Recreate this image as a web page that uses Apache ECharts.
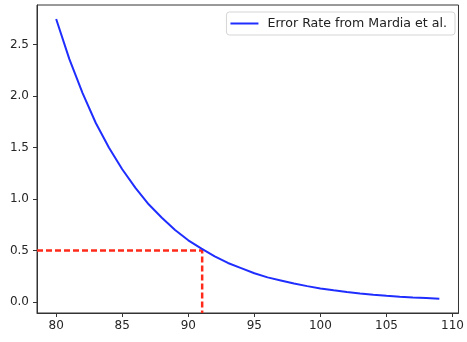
<!DOCTYPE html>
<html>
<head>
<meta charset="utf-8">
<script src="https://cdn.jsdelivr.net/npm/echarts@6/dist/echarts.min.js"></script>
<style>
  html, body { margin: 0; padding: 0; background: #fff; }
  #chart { width: 467px; height: 342px; }
</style>
</head>
<body>
<div id="chart"></div>
<script>
// valores
const xVals = [80, 81, 82, 83, 84, 85, 86, 87, 88, 89, 90, 91, 92, 93, 94,
  95, 96, 97, 98, 99, 100, 101, 102, 103, 104, 105, 106, 107, 108, 109];
const errorRate = [2.75, 2.36, 2.03, 1.74, 1.50, 1.29, 1.11, 0.95, 0.82, 0.70,
  0.60, 0.52, 0.445, 0.38, 0.33, 0.28, 0.24, 0.21, 0.18, 0.155,
  0.133, 0.114, 0.098, 0.084, 0.072, 0.062, 0.053, 0.045, 0.039, 0.033];
const xTicks = [80, 85, 90, 95, 100, 105, 110];
const yTicks = [0, 0.5, 1.0, 1.5, 2.0, 2.5];
const threshold = 0.5;
const crossX = 91.05;
const xRange = [78.55, 110.45];
const yRange = [-0.106, 2.886];

const chart = echarts.init(document.getElementById("chart"));
const font = "DejaVu Sans";

const option = {
  animation: false,
  grid: {
    left: 37, right: 6, top: 5, bottom: 29,
    show: true, borderColor: "#333", borderWidth: 1, backgroundColor: "transparent"
  },
  legend: {
    right: 12, top: 12,
    padding: [5, 8, 5, 4],
    itemWidth: 28, itemHeight: 2, itemGap: 8,
    icon: "rect",
    borderColor: "#d5d5d5", borderWidth: 1, borderRadius: 3,
    backgroundColor: "#fff",
    textStyle: { fontFamily: font, fontSize: 12.6, color: "#222", padding: [0, 0, 0, 4] },
    data: ["Error Rate from Mardia et al."]
  },
  xAxis: {
    type: "value",
    min: xRange[0], max: xRange[1],
    axisLine: { show: true, onZero: false, lineStyle: { color: "#333", width: 1 } },
    axisTick: { show: true, length: 4, customValues: xTicks, lineStyle: { color: "#333" } },
    axisLabel: { customValues: xTicks, fontFamily: font, fontSize: 12, color: "#262626", margin: 7 },
    splitLine: { show: false }
  },
  yAxis: {
    type: "value",
    min: yRange[0], max: yRange[1],
    axisLine: { show: true, onZero: false, lineStyle: { color: "#333", width: 1 } },
    axisTick: { show: true, length: 4, customValues: yTicks, lineStyle: { color: "#333" } },
    axisLabel: {
      customValues: yTicks, fontFamily: font, fontSize: 12, color: "#262626", margin: 8,
      formatter: (v) => v.toFixed(1)
    },
    splitLine: { show: false }
  },
  series: [
    {
      name: "Error Rate from Mardia et al.",
      type: "line",
      data: xVals.map((x, i) => [x, errorRate[i]]),
      smooth: false,
      showSymbol: false,
      lineStyle: { color: "#1f2eff", width: 2 },
      itemStyle: { color: "#1f2eff" }
    },
    {
      name: "umbral",
      type: "line",
      data: [[xRange[0], threshold], [crossX, threshold], [crossX, yRange[0]]],
      showSymbol: false,
      lineStyle: { color: "#ff2a1a", width: 2.5, type: [6, 3] },
      z: 1
    }
  ]
};
chart.setOption(option);
</script>
</body>
</html>
